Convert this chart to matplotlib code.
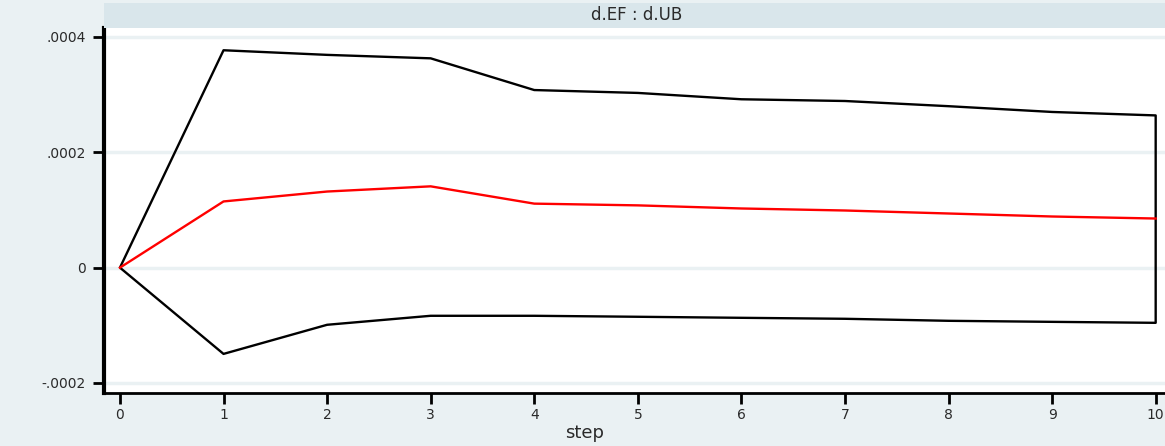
import matplotlib
matplotlib.use("Agg")
import matplotlib.pyplot as plt

steps = [0, 1, 2, 3, 4, 5, 6, 7, 8, 9, 10]
irf = [0, 0.0001148, 0.000132, 0.000141, 0.000111, 0.000108, 0.0001026,
       0.0000991, 0.0000939, 0.0000887, 0.0000852]
upper = [0, 0.000377, 0.000369, 0.000363, 0.000308, 0.000303, 0.000292,
         0.000289, 0.000280, 0.000270, 0.000264]
lower = [0, -0.0001496, -0.0000991, -0.0000835, -0.0000835, -0.0000852,
         -0.000087, -0.0000887, -0.0000922, -0.000094, -0.0000957]
yticks = [-0.0002, 0, 0.0002, 0.0004]
ytick_labels = ["-.0002", "0", ".0002", ".0004"]
title = "d.EF : d.UB"
xlabel = "step"

bg = "#EAF1F3"
W, H = 1165, 446
fig = plt.figure(figsize=(W / 100, H / 100), dpi=100, facecolor=bg)

left, right = 104 / W, 1.0
bottom, top = 1 - 393 / H, 1 - 28 / H
ax = fig.add_axes([left, bottom, right - left, top - bottom])
ax.set_facecolor("white")

# title strip
strip = fig.add_axes([left, top, right - left, (28 - 3) / H])
strip.set_facecolor("#D9E6EB")
strip.set_xticks([]); strip.set_yticks([])
for s in strip.spines.values():
    s.set_visible(False)
strip.text(0.502, 0.5, title, ha="center", va="center", fontsize=12, color="#2a2a2a",
           transform=strip.transAxes)

ax.fill_between(steps, lower, upper, facecolor="none", edgecolor="black", linewidth=1.7)
ax.plot(steps, irf, color="red", linewidth=1.7)

ax.set_xlim(-0.154, 10.09)
ax.set_ylim(-0.0002174, 0.0004156)
ax.set_xticks(steps)
ax.set_yticks(yticks)
ax.set_yticklabels(ytick_labels)
ax.set_xticklabels([str(s) for s in steps])
ax.grid(axis="y", color="#EAF1F3", linewidth=2.5)
ax.set_axisbelow(True)
ax.tick_params(axis="both", colors="black", labelcolor="#2a2a2a", labelsize=10,
               length=8, width=2)
ax.tick_params(axis="x", pad=3)
ax.tick_params(axis="y", pad=5)
for s in ["top", "right"]:
    ax.spines[s].set_visible(False)
ax.spines["left"].set_linewidth(3)
ax.spines["bottom"].set_linewidth(2)
ax.set_xlabel(xlabel, fontsize=13, color="#2a2a2a", labelpad=2)
ax.xaxis.set_label_coords((585 - 104) / (W - 104), -0.085)

fig.savefig("out.png", dpi=100, facecolor=bg)
